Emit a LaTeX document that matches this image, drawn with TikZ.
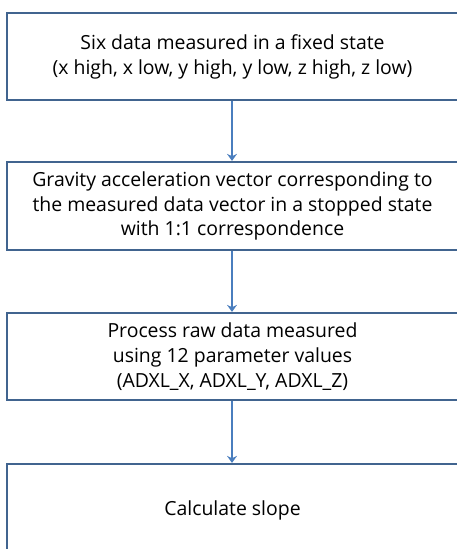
\documentclass[tikz,border=0pt]{standalone}
\usepackage{fontspec}
\setmainfont{Open Sans}
\usepackage{xcolor}
\usetikzlibrary{arrows.meta,positioning}
\definecolor{BL}{HTML}{41648F}
\definecolor{AR}{HTML}{4A7EBE}

\begin{document}
\begin{tikzpicture}[x=1bp,y=-1bp,
    stepbox/.style={draw=BL, line width=2.2bp, fill=white, minimum width=451bp,
      minimum height=87bp, align=center, inner sep=0pt,
      font=\fontsize{19.5}{25}\selectfont},
    flow/.style={draw=AR, line width=1.8bp, -{Stealth[length=7bp,width=10bp]}}]
  \useasboundingbox (0,0) rectangle (457,549);
  \clip (0,0) rectangle (457,549);
  \node[stepbox, text depth=4bp] (s1) at (232.5,56.5)
    {Six data measured in a fixed state\\(x high, x low, y high, y low, z high, z low)};
  \node[stepbox, minimum height=88bp] (s2) at (232.5,206)
    {Gravity acceleration vector corresponding to\\the measured data vector in a stopped state\\with 1:1 correspondence};
  \node[stepbox] (s3) at (232.5,356.5)
    {Process raw data measured\\using 12 parameter values\\(ADXL\_X, ADXL\_Y, ADXL\_Z)};
  \node[stepbox, minimum height=93bp] (s4) at (232.5,510.5) {Calculate slope};
  \foreach \a/\b in {s1/s2,s2/s3,s3/s4}
    \draw[flow] ([xshift=-0.5bp]\a.south) -- ([xshift=-0.5bp]\b.north);
\end{tikzpicture}
\end{document}
